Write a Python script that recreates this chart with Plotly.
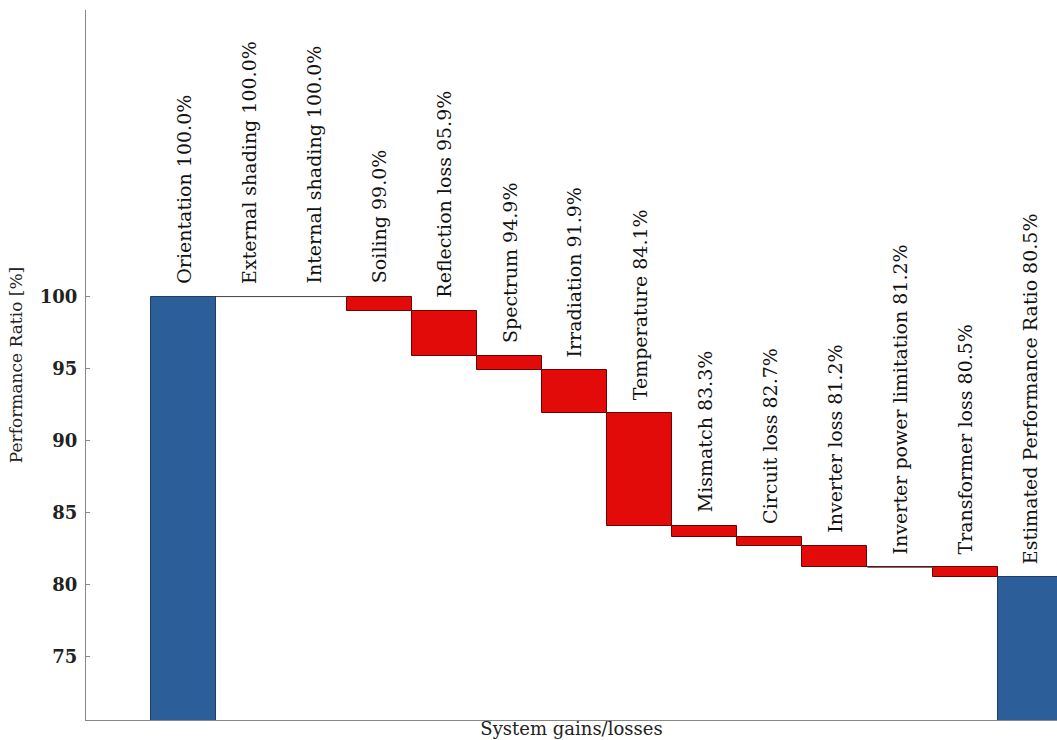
import plotly.graph_objects as go

categories = ["Orientation", "External shading", "Internal shading", "Soiling",
              "Reflection loss", "Spectrum", "Irradiation", "Temperature",
              "Mismatch", "Circuit loss", "Inverter loss",
              "Inverter power limitation", "Transformer loss",
              "Estimated Performance Ratio"]
levels = [100.0, 100.0, 100.0, 99.0, 95.9, 94.9, 91.9, 84.1, 83.3, 82.7,
          81.2, 81.2, 80.5, 80.5]
kinds = ["total"] + ["relative"] * 12 + ["total"]
y_ticks = [75, 80, 85, 90, 95, 100]

BLUE = "#2c5f99"
RED = "#e30a0a"
FONT = "DejaVu Serif"

x = list(range(len(categories)))
bases, heights, colors, lines, tops = [], [], [], [], []
prev = None
for i, (lv, k) in enumerate(zip(levels, kinds)):
    if k == "total":
        bases.append(0)
        heights.append(lv)
        colors.append(BLUE)
        lines.append("#1d3f66")
        tops.append(lv)
    else:
        lo, hi = min(prev, lv), max(prev, lv)
        bases.append(lo)
        heights.append(hi - lo)
        colors.append(RED)
        lines.append("#6a0000")
        tops.append(hi)
    prev = lv

fig = go.Figure()
fig.add_trace(go.Bar(x=x, y=heights, base=bases, width=1.0,
                     marker=dict(color=colors, line=dict(color=lines, width=1)),
                     hoverinfo="skip", showlegend=False))

# zero-height steps drawn as thin lines
for i, h in enumerate(heights):
    if h == 0:
        fig.add_trace(go.Scatter(x=[i - 0.5, i + 0.5], y=[levels[i], levels[i]],
                                 mode="lines", line=dict(color="#555555", width=1),
                                 hoverinfo="skip", showlegend=False))

for i, (c, lv, t) in enumerate(zip(categories, levels, tops)):
    fig.add_annotation(x=i, y=t, text=f"{c} {lv:.1f}%", textangle=-90,
                       showarrow=False, xanchor="center", yanchor="bottom",
                       yshift=11, font=dict(family=FONT, size=19, color="#111111"))

fig.update_layout(
    width=1057, height=740,
    margin=dict(l=86, r=0, t=10, b=20),
    plot_bgcolor="white", paper_bgcolor="white",
    bargap=0,
    xaxis=dict(range=[-1.5, 13.41], showticklabels=False, ticks="",
               showgrid=False, zeroline=False, showline=True,
               linecolor="#888888", linewidth=1,
               title=dict(text="System gains/losses", standoff=2,
                          font=dict(family=FONT, size=18, color="#222222"))),
    yaxis=dict(range=[70.6, 119.9], tickvals=y_ticks, ticks="inside", ticklen=4,
               tickcolor="#888888", showgrid=False, zeroline=False, showline=True,
               linecolor="#888888", linewidth=1, ticklabelstandoff=4,
               tickfont=dict(family=FONT, size=18, color="#222222", weight="bold"),
               title=dict(text="Performance Ratio [%]", standoff=12,
                          font=dict(family=FONT, size=17, color="#222222"))),
)

fig.write_html("out.html")
